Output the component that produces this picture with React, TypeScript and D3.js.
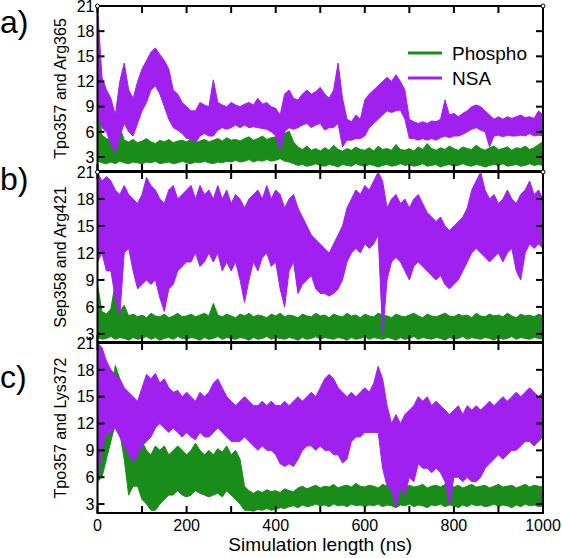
import React from 'react';
import * as d3 from 'd3';

const STEP_NS = 10;
const xTicks = [0, 100, 200, 300, 400, 500, 600, 700, 800, 900, 1000];
const xTickLabels = [0, 200, 400, 600, 800, 1000];
const yTicks = [3, 6, 9, 12, 15, 18, 21];
const panelLabels = ['a)', 'b)', 'c)'];
const yTitles = ['Tpo357 and Arg365', 'Sep358 and Arg421', 'Tpo357 and Lys372'];
const seriesNames = ['Phospho', 'NSA'];

// Panel a
const aNsaHi = [
  21, 12.5, 11, 10, 8, 12, 14.2, 11, 10, 12,
  13.5, 14.5, 15.5, 16, 15.2, 14.5, 13.5, 11, 10.5, 9.5,
  9, 8.5, 8.5, 9.5, 9.2, 9, 12.2, 9.5, 9.2, 9,
  9.5, 9.2, 9, 9.3, 9.5, 9.2, 10, 9.3, 9.5, 9,
  8.8, 8, 10.5, 11, 10, 9.8, 10.5, 11, 10.5, 10.8,
  11.3, 10.5, 10, 11, 14.2, 10, 7.5, 7.2, 8, 7.5,
  9.8, 10.5, 11, 11.5, 12, 12.5, 12, 12.8, 12, 11,
  7.5, 7.2, 7, 7.2, 7, 7.3, 7.2, 7.5, 9.8, 8,
  8.2, 7.8, 8.2, 8.5, 9, 9.2, 9, 8.5, 8, 7.5,
  7.8, 7.5, 7.8, 7.6, 7.8, 8, 7.7, 7.8, 7.6, 8.5,
  8,
];
const aNsaLo = [
  8, 6.5, 6, 4.5, 3.5, 5.5, 7, 6, 5.5, 7,
  8.5, 9.5, 11, 11.5, 10.5, 9, 7.5, 6.5, 6.2, 5.8,
  5.2, 5.2, 4.7, 5.5, 5.8, 5.5, 5.5, 6.2, 6.5, 6.3,
  6.5, 6.8, 6.5, 6.8, 6.5, 6.6, 6.5, 6.4, 6.3, 6,
  5.5, 3.8, 6, 6.5, 6.3, 6.5, 6.8, 7, 6.5, 6.8,
  7, 6.2, 6.5, 6.5, 7, 4.2, 5, 5, 5.2, 5.2,
  5.5, 6.5, 7, 7.5, 8, 8.5, 8.3, 8.5, 8.6, 7.5,
  5.2, 5.2, 5, 5.2, 5, 5.2, 5, 5.3, 5.5, 5.3,
  5.5, 5.5, 5.7, 6, 6.3, 6.5, 6.2, 6, 4.2, 5.5,
  5.6, 5.4, 5.6, 5.5, 5.5, 5.6, 5.5, 5.8, 5.5, 5.6,
  5.5,
];
const aGreenHi = [
  10, 5.6, 5.2, 5.0, 5.3, 6.6, 5.0, 4.8, 5.1, 4.7,
  4.9, 5.2, 4.8, 4.6, 5.0, 4.8, 5.1, 4.7, 4.9, 5.0,
  4.8, 5.2, 4.7, 4.9, 5.1, 4.8, 5.0, 5.2, 4.9, 5.3,
  5.0, 5.1, 4.9, 5.2, 5.4, 5.0, 5.2, 5.5, 5.1, 5.3,
  5.4, 6.0, 5.8, 6.1, 4.8, 4.2, 3.9, 4.3, 3.8, 4.0,
  3.7, 4.1, 3.8, 4.4, 3.9, 3.7, 4.0, 3.8, 4.2, 3.9,
  3.8, 4.1, 3.7, 4.3, 3.9, 4.0, 3.8, 4.5, 3.9, 3.8,
  4.0, 3.7, 4.2, 3.9, 4.6, 4.0, 3.8, 4.1, 3.9, 4.3,
  4.0, 3.8, 4.2, 4.0, 3.9, 4.4, 4.0, 3.8, 4.1, 4.3,
  3.9, 4.0, 4.2, 3.8, 4.1, 4.0, 4.3, 3.9, 4.1, 4.5,
  4.8,
];
const aGreenLo = [
  2.5, 2.3, 2.2, 2.4, 2.2, 2.5, 2.3, 2.2, 2.4, 2.3,
  2.2, 2.4, 2.3, 2.5, 2.2, 2.3, 2.4, 2.2, 2.3, 2.5,
  2.3, 2.2, 2.4, 2.3, 2.5, 2.3, 2.2, 2.4, 2.3, 2.5,
  2.4, 2.6, 2.4, 2.5, 2.7, 2.4, 2.6, 2.5, 2.7, 2.5,
  2.6, 2.8, 2.5, 2.4, 2.2, 2.0, 2.1, 1.9, 2.0, 2.2,
  2.0, 1.9, 2.1, 2.0, 1.8, 2.1, 2.0, 1.9, 2.2, 2.0,
  1.9, 2.1, 2.0, 1.8, 2.0, 2.1, 1.9, 2.0, 2.2, 2.0,
  2.1, 1.9, 2.0, 2.2, 1.9, 2.0, 2.1, 1.8, 2.0, 2.1,
  1.9, 2.0, 2.2, 2.0, 1.9, 2.1, 2.0, 1.8, 2.0, 2.1,
  2.0, 2.2, 1.9, 2.0, 2.1, 1.9, 2.0, 2.2, 2.0, 2.1,
  2.0,
];

// Panel b
const bNsaHi = [
  21, 20, 20.5, 20, 19, 18.5, 19.5, 18.5, 18, 17.5,
  18.5, 20.4, 19.5, 19, 18, 17.5, 19, 19.5, 18, 18.5,
  19, 19.5, 18, 19.5, 18.5, 19, 18, 19.5, 18, 19,
  17.5, 18.5, 18, 17, 18, 18.5, 19, 18, 19.5, 18,
  19, 18.5, 17, 18, 18.5, 17, 16, 15, 14, 13.5,
  13, 12.5, 12, 13, 14, 15, 17, 18, 19, 18.5,
  19.5, 19, 20, 21, 20, 17, 18, 18.5, 17.5, 18,
  17, 18, 18.5, 17.5, 16.5, 16, 15.5, 16, 15, 14.5,
  15, 15.5, 16, 17, 19, 20, 21, 19, 18, 18.5,
  17.5, 18, 19, 18, 17.5, 18.5, 19, 20, 18.5, 19,
  18,
];
const bNsaLo = [
  11, 12, 10, 10, 7, 5, 12, 12.5, 10, 8,
  8.5, 9, 8.5, 9, 7, 5.5, 8, 8.5, 10, 10.5,
  11, 11, 12, 10.5, 11, 12, 11, 12, 10, 11,
  10, 11, 9, 6.5, 9, 11, 10, 11.5, 12, 10.5,
  11, 8, 6, 10, 11, 7.5, 8.5, 9, 9.5, 8,
  7.5, 7.5, 7.2, 7.5, 8, 9, 11, 12, 12.5, 12,
  13, 12.5, 13, 14, 3, 9, 11, 11.5, 11, 10,
  9, 10.5, 11, 10.5, 10, 9.5, 9, 9.5, 8.5, 8,
  8.5, 9, 10, 11, 12, 12.5, 12, 11.5, 11, 11.5,
  12, 11, 12, 12.5, 10, 9, 12, 13, 12.5, 13,
  12.5,
];
const bGreenHi = [
  8.5, 5.5, 5.2, 5.8, 8.7, 5.5, 6.2, 5.0, 5.2, 4.9,
  5.1, 4.8, 5.3, 5.0, 4.9, 5.2, 4.8, 5.0, 5.3, 4.9,
  5.0, 5.2, 4.9, 5.1, 5.3, 5.0, 6.4, 5.1, 4.9, 5.2,
  5.0, 4.8, 5.2, 5.0, 5.3, 4.9, 5.1, 5.0, 4.8, 5.2,
  5.0, 5.3, 4.9, 5.1, 5.0, 4.8, 5.2, 5.0, 4.9, 5.3,
  5.0, 5.1, 4.8, 5.2, 5.0, 4.9, 5.3, 5.0, 5.1, 4.8,
  5.2, 5.0, 4.9, 5.3, 5.1, 5.0, 4.8, 5.2, 5.0, 4.9,
  5.1, 5.3, 5.0, 4.8, 5.2, 5.0, 4.9, 5.1, 5.3, 5.0,
  4.9, 5.2, 5.0, 5.1, 4.8, 5.3, 5.0, 4.9, 5.2, 5.0,
  5.1, 4.9, 5.3, 5.0, 4.8, 5.2, 5.0, 5.1, 4.9, 5.2,
  5.0,
];
const bGreenLo = [
  2.6, 2.4, 2.5, 2.7, 2.4, 2.6, 2.5, 2.3, 2.6, 2.4,
  2.5, 2.7, 2.4, 2.6, 2.3, 2.5, 2.6, 2.4, 2.7, 2.5,
  2.4, 2.6, 2.5, 2.3, 2.6, 2.4, 2.5, 2.7, 2.4, 2.6,
  2.5, 2.4, 2.6, 2.5, 2.3, 2.6, 2.4, 2.5, 2.7, 2.4,
  2.6, 2.5, 2.4, 2.6, 2.5, 2.3, 2.6, 2.4, 2.5, 2.7,
  2.4, 2.6, 2.5, 2.4, 2.6, 2.5, 2.3, 2.6, 2.4, 2.5,
  2.7, 2.4, 2.6, 2.5, 2.4, 2.6, 2.5, 2.3, 2.6, 2.4,
  2.5, 2.7, 2.4, 2.6, 2.5, 2.4, 2.6, 2.5, 2.3, 2.6,
  2.4, 2.5, 2.7, 2.4, 2.6, 2.5, 2.4, 2.6, 2.5, 2.3,
  2.6, 2.4, 2.5, 2.7, 2.4, 2.6, 2.5, 2.4, 2.6, 2.5,
  2.4,
];

// Panel c
const cNsaHi = [
  21, 20.5, 19, 18, 17.5, 17, 16, 15.5, 15, 14.5,
  16, 17.5, 17, 17.6, 16.5, 17, 16, 15.5, 15.7, 15,
  15.5, 15, 14.5, 15.5, 15, 15.5, 16.5, 17, 16, 15,
  14.5, 14, 14.5, 15, 14.5, 14, 14, 14.5, 14, 14.5,
  14, 14, 14.5, 14, 14.5, 15, 14.5, 15, 15.5, 15,
  16, 17, 17.5, 17, 16, 15.5, 15, 15.5, 15, 15.5,
  16, 15.5, 16.5, 18.4, 17, 14, 12, 13, 12, 13,
  13.5, 14, 15, 14.5, 15, 14, 14.5, 14, 13.5, 13,
  13.5, 14, 13, 14, 13.5, 14, 13.5, 14, 14.5, 14,
  14.5, 15, 14.5, 15, 15.5, 15, 15.5, 16, 15.5, 15,
  15.5,
];
const cNsaLo = [
  6, 9, 11, 11, 11.5, 10.5, 9.5, 8.5, 7.7, 8.5,
  9.5, 10, 10.5, 11.5, 12, 11.5, 11, 11.5, 11, 10.5,
  11, 10.5, 10.2, 11, 10.5, 10.5, 11, 11.5, 11, 10.5,
  10, 10, 10, 10.5, 10, 9.5, 9, 9.5, 9, 9,
  8.5, 7.5, 7.2, 7.5, 7.2, 8, 9, 9.5, 9.5, 9,
  9.5, 9, 9, 8.5, 8.5, 7.6, 8, 10, 10.5, 10.5,
  11, 11, 11, 11, 7, 5, 4.5, 2.6, 5, 4,
  6, 5.5, 7.5, 7, 7, 6.5, 7, 6.5, 5.5, 2.9,
  6, 6, 5.5, 6, 5.5, 5.5, 6, 7, 7.5, 8,
  8.5, 8, 8.5, 9, 9, 9.5, 10, 10, 9.5, 10,
  10.5,
];
const cGreenHi = [
  12, 11, 12.5, 15, 18.5, 17, 15, 13, 12, 11,
  10, 9, 8.5, 9.5, 9, 9.5, 8.5, 9, 9.5, 9,
  8.5, 9, 9.8, 9, 8.5, 9, 8.5, 9.2, 8.8, 9.5,
  8.5, 9, 8, 5, 4.5, 4.2, 4.5, 4.3, 4.6, 4.4,
  4.5, 4.3, 4.7, 4.5, 4.4, 4.8, 5.0, 4.7, 4.9, 5.1,
  4.8, 5.0, 4.9, 5.2, 4.8, 5.0, 5.1, 4.9, 5.3, 5.0,
  4.9, 5.1, 5.0, 4.8, 5.2, 5.0, 4.9, 5.3, 5.0, 4.8,
  5.1, 4.9, 5.0, 5.2, 4.8, 5.0, 5.1, 4.9, 5.2, 5.0,
  4.9, 5.1, 4.8, 5.0, 5.2, 4.9, 5.0, 5.1, 4.8, 5.0,
  5.2, 4.9, 5.0, 5.1, 4.8, 5.0, 5.2, 4.9, 5.1, 5.0,
  4.9,
];
const cGreenLo = [
  5.5, 6, 8, 10, 12, 11, 8, 4, 5, 5,
  3.5, 3, 2.3, 2.3, 3, 3.5, 4, 4, 4.5, 4,
  3.8, 4, 4.5, 4.2, 4, 3.8, 4, 4.2, 3.8, 4.5,
  4, 3.5, 3, 2.3, 2.3, 2.2, 2.4, 2.3, 2.5, 2.3,
  2.4, 2.6, 2.5, 2.7, 2.8, 2.6, 2.9, 2.7, 2.8, 3.0,
  2.8, 2.9, 2.7, 3.0, 2.8, 2.9, 2.7, 3.0, 2.8, 2.9,
  2.7, 2.9, 2.8, 3.0, 2.7, 2.9, 2.8, 2.6, 2.9, 2.8,
  3.0, 2.7, 2.9, 2.8, 2.6, 2.9, 2.8, 3.0, 2.7, 2.9,
  2.8, 2.6, 2.9, 2.7, 3.0, 2.8, 2.9, 2.7, 2.8, 3.0,
  2.7, 2.9, 2.8, 2.6, 2.9, 2.7, 3.0, 2.8, 2.9, 2.7,
  2.8,
];

const GREEN = '#1a8c1a';
const PURPLE = '#a020f0';

const panelData = [
  { green: [aGreenLo, aGreenHi], nsa: [aNsaLo, aNsaHi] },
  { green: [bGreenLo, bGreenHi], nsa: [bNsaLo, bNsaHi] },
  { green: [cGreenLo, cGreenHi], nsa: [cNsaLo, cNsaHi] },
];

const W = 562;
const H = 558;
const LEFT = 97.5;
const RIGHT = 543;
const panelBoxes = [
  { top: 6, bottom: 171, ymin: 1.33, labelY: 33, corners: true },
  { top: 172, bottom: 342, ymin: 2.1, labelY: 190, corners: true },
  { top: 343, bottom: 513, ymin: 2.0, labelY: 388, corners: false },
];

const FONT = 'Liberation Sans, Arial, Helvetica, sans-serif';

export default function App() {
  const x = d3.scaleLinear().domain([0, 1000]).range([LEFT, RIGHT]);

  const band = (lo: number[], hi: number[], y: d3.ScaleLinear<number, number>) =>
    d3
      .area<number>()
      .x((_, i) => x(i * STEP_NS))
      .y0((_, i) => y(lo[i]))
      .y1((_, i) => y(hi[i]))
      .curve(d3.curveLinear)(hi) || '';

  return (
    <svg
      width={W}
      height={H}
      style={{ position: 'absolute', left: 0, top: 0, background: '#fff' }}
      fontFamily={FONT}
    >
      <rect x={0} y={0} width={W} height={H} fill="#fff" />
      <defs>
        {panelBoxes.map((p, k) => (
          <clipPath id={`clip${k}`} key={k}>
            <rect x={LEFT} y={p.top} width={RIGHT - LEFT} height={p.bottom - p.top} />
          </clipPath>
        ))}
      </defs>
      {panelBoxes.map((p, k) => {
        const y = d3.scaleLinear().domain([p.ymin, 21]).range([p.bottom, p.top]);
        const d = panelData[k];
        return (
          <g key={k}>
            <g clipPath={`url(#clip${k})`}>
              <path
                d={band(d.green[0], d.green[1], y)}
                fill={GREEN}
                stroke={GREEN}
                strokeWidth={1}
              />
              <path
                d={band(d.nsa[0], d.nsa[1], y)}
                fill={PURPLE}
                stroke={PURPLE}
                strokeWidth={1}
              />
            </g>
            <rect
              x={LEFT}
              y={p.top}
              width={RIGHT - LEFT}
              height={p.bottom - p.top}
              fill="none"
              stroke="#000"
              strokeWidth={2}
            />
            {yTicks.map((t) => (
              <g key={t}>
                <line x1={LEFT} x2={LEFT + 7} y1={y(t)} y2={y(t)} stroke="#000" strokeWidth={2} />
                <line x1={RIGHT} x2={RIGHT - 7} y1={y(t)} y2={y(t)} stroke="#000" strokeWidth={2} />
                <text
                  x={LEFT - 3}
                  y={y(t)}
                  dy="0.36em"
                  textAnchor="end"
                  fontSize={16}
                  fill="#000"
                >
                  {t}
                </text>
              </g>
            ))}
            {xTicks.map((t) => (
              <g key={t}>
                <line x1={x(t)} x2={x(t)} y1={p.top} y2={p.top + 7} stroke="#000" strokeWidth={2} />
                <line x1={x(t)} x2={x(t)} y1={p.bottom} y2={p.bottom - 7} stroke="#000" strokeWidth={2} />
              </g>
            ))}
            <text
              transform={`translate(66,${(p.top + p.bottom) / 2}) rotate(-90)`}
              textAnchor="middle"
              fontSize={16}
              fill="#000"
            >
              {yTitles[k]}
            </text>
            <text x={0} y={p.labelY} fontSize={32} fill="#000">
              {panelLabels[k]}
            </text>
            {p.corners &&
              [
                [LEFT, p.top],
                [RIGHT, p.top],
              ].map(([cx, cy], j) => (
                <circle key={j} cx={cx} cy={cy} r={2} fill="#fff" stroke="#000" strokeWidth={1} />
              ))}
          </g>
        );
      })}
      {xTickLabels.map((t) => (
        <text key={t} x={x(t)} y={531} textAnchor="middle" fontSize={16} fill="#000">
          {t}
        </text>
      ))}
      <text x={(LEFT + RIGHT) / 2} y={551} textAnchor="middle" fontSize={19} fill="#000">
        Simulation length (ns)
      </text>
      <g>
        <line x1={408} x2={442} y1={53} y2={53} stroke={GREEN} strokeWidth={3} />
        <text x={452} y={59.5} fontSize={19} fill="#000">
          {seriesNames[0]}
        </text>
        <line x1={408} x2={442} y1={78} y2={78} stroke={PURPLE} strokeWidth={3} />
        <text x={452} y={84.5} fontSize={19} fill="#000">
          {seriesNames[1]}
        </text>
      </g>
    </svg>
  );
}
